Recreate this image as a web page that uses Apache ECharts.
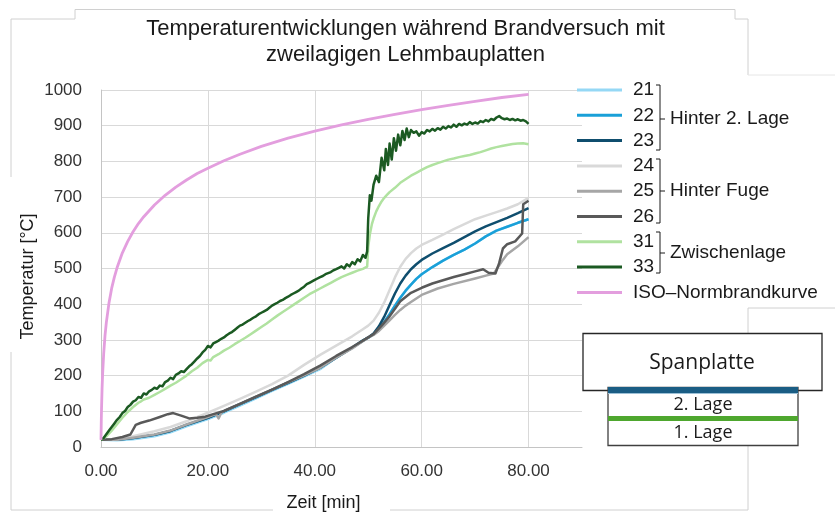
<!DOCTYPE html>
<html>
<head>
<meta charset="utf-8">
<script src="https://cdn.jsdelivr.net/npm/echarts@6/dist/echarts.min.js"></script>
<style>html,body{margin:0;padding:0;background:#fff}#c{width:835px;height:513px}</style>
</head>
<body>
<div id="c"></div>
<script>
// ---------- data ----------
const seriesNames = ['21','22','23','24','25','26','31','33','ISO–Normbrandkurve'];
const xTickLabels = ['0.00','20.00','40.00','60.00','80.00'];

const tIso = [0,0.05,0.1,0.2,0.3,0.5,0.75,1,1.5,2,2.5,3,4,5,6,7,8,10,12,14,16,18,20,23,26,30,35,40,45,50,55,60,65,70,75,80];
const vIso = [20,70,108,163,203,261,312,349,404,445,476,502,544,576,603,626,645,678,705,728,748,766,781,802,820,842,865,885,902,918,932,945,957,968,979,988];

const tLow = [0,3,6,10,13,16,20,23,26,29,32,35,38,41,44,47,49,50,51,52,53,54,55,56,57,58,59,60,62,64,66,68,70,72,74,76,78,80];
const v21  = [20,19,22,30,41,58,78,96,116,136,157,177,197,218,250,278,298,306,316,330,350,372,396,418,438,455,471,484,504,522,538,553,570,590,606,617,628,638];
const v22  = [20,20,25,34,45,62,82,100,120,140,160,180,200,222,250,278,298,306,316,330,350,372,396,418,438,455,471,484,504,522,538,553,570,590,606,617,628,638];
const v23  = [20,20,25,34,45,62,82,100,120,140,160,180,200,222,250,278,298,307,318,338,365,398,430,458,480,498,512,524,542,557,572,588,604,618,630,642,655,669];
const v24  = [20,22,30,44,56,72,96,115,135,155,176,200,230,258,284,310,330,340,354,376,405,440,475,505,527,543,556,566,580,595,610,624,638,648,658,668,680,698];

const t25 = [0,3,6,10,13,16,20,21.5,22,22.5,23,26,29,32,35,38,41,44,47,49,50,51,52,53,54,55,56,57,58,60,63,66,70,72,73.5,75,76,78,80];
const v25 = [20,20,26,35,46,63,84,92,80,96,101,121,141,161,181,201,222,250,276,296,306,314,325,340,355,370,384,396,406,426,444,457,472,480,486,520,540,562,588];

const t26 = [0,2,4,5.5,6.5,7.5,9,11,12.5,13.5,15,16.5,18,19.5,21,23,26,29,32,35,38,41,44,47,49,51,52.5,54,56,58,60,62,64,66,68,70,71.5,72.5,73.8,74.5,75.2,76,77.5,78.8,79,80];
const v26 = [20,22,28,35,62,68,74,84,92,95,88,80,82,85,92,101,121,141,161,182,204,228,255,280,298,316,340,366,408,432,446,458,467,476,484,492,498,488,486,515,556,568,576,598,680,690];

const t31 = [0,1,2,3,4,5,6,7,7.5,8,9,10,11,12,13,14,15,16,17,18,19,20,20.5,21,22,23,24,25,26,27,28,29,30,31,32,33,34,35,36,37,38,39,40,41,42,43,44,45,46,47,48,49,49.8,50,50.3,50.7,51,51.5,52,52.5,53,53.5,54,55,56,57,58,59,60,61,62,63,64,65,66,67,68,69,70,71,72,73,74,75,76,77,78,79,80];
const v31 = [20,30,46,64,82,98,112,124,128,133,138,146,154,163,172,180,190,200,212,222,235,244,242,252,260,270,278,288,297,306,316,326,336,346,357,368,378,388,398,408,418,428,436,444,452,460,468,476,482,488,494,499,505,560,595,625,640,660,675,688,698,706,714,726,740,750,760,768,776,784,790,795,800,805,808,812,815,818,822,826,831,836,840,843,846,849,850,851,848];

const t33 = [0,0.5,1,1.5,2,2.5,3,3.5,4,4.5,5,5.5,6,6.5,7,7.5,8,8.5,9,9.5,10,10.5,11,11.5,12,12.5,13,13.5,14,14.5,15,15.5,16,16.5,17,17.5,18,18.5,19,19.5,20,20.5,21,21.5,22,22.5,23,23.5,24,24.5,25,25.5,26,26.5,27,27.5,28,28.5,29,29.5,30,30.5,31,31.5,32,32.5,33,33.5,34,34.5,35,35.5,36,36.5,37,37.5,38,38.5,39,39.5,40,40.5,41,41.5,42,42.5,43,43.5,44,44.5,45,45.5,46,46.5,47,47.5,48,48.5,49,49.5,49.8,50,50.3,50.6,51,51.5,52,52.5,53,53.3,53.7,54,54.4,54.8,55.2,55.6,56,56.4,56.8,57.2,57.6,58,58.5,59,59.5,60,60.5,61,61.5,62,62.5,63,63.5,64,64.5,65,65.5,66,66.5,67,67.5,68,68.5,69,69.5,70,70.5,71,71.5,72,72.5,73,73.5,74,74.5,75,75.5,76,76.5,77,77.5,78,78.5,79,79.5,80];
const v33 = [20,25,36,46,56,66,76,84,95,101,112,118,127,131,140,138,150,147,156,160,166,163,172,170,182,186,194,190,202,206,212,210,218,226,232,240,248,255,265,272,283,279,290,294,298,303,307,313,318,322,328,334,340,343,348,353,357,362,366,372,376,380,384,390,396,400,404,409,412,417,421,426,430,434,438,444,449,456,460,464,468,472,476,479,484,487,490,495,498,502,506,500,512,506,518,512,526,520,538,530,548,640,705,690,735,760,742,810,775,835,790,850,805,865,830,875,845,885,860,892,868,888,880,884,872,882,878,888,884,891,886,893,889,897,892,899,895,903,897,905,901,906,903,910,905,909,906,913,910,916,912,919,916,923,927,921,918,920,916,919,915,918,914,916,912,905];

// ---------- chart ----------
const FONT = 'Liberation Sans, Arial, sans-serif';
const colors = ['#95d8f5','#1aa0d8','#0f4e6e','#d9d9d9','#a6a6a6','#595959','#b0e2a0','#1b5a22','#e39ede'];
const zip = (t, v) => t.map((x, i) => [x, v[i]]);
const seriesData = [zip(tLow,v21), zip(tLow,v22), zip(tLow,v23), zip(tLow,v24), zip(t25,v25), zip(t26,v26), zip(t31,v31), zip(t33,v33), zip(tIso,vIso)];

const chart = echarts.init(document.getElementById('c'), null, {renderer:'canvas'});
const gray = '#d0d0d0';
const L = (x1,y1,x2,y2,c) => ({type:'line', shape:{x1,y1,x2,y2}, style:{stroke:c||gray, lineWidth:1}, silent:true});

chart.setOption({
  animation:false,
  backgroundColor:'#ffffff',
  title:{
    text:'Temperaturentwicklungen während Brandversuch mit\nzweilagigen Lehmbauplatten',
    left:400.5, top:11, textAlign:'center', padding:5,
    textStyle:{fontFamily:FONT, fontSize:22, fontWeight:'normal', color:'#1a1a1a', lineHeight:26}
  },
  grid:{left:101, top:90, right:253, bottom:66, containLabel:false, outerBoundsMode:'none'},
  xAxis:{
    type:'value', min:0, max:90, interval:20,
    name:'Zeit [min]', nameLocation:'middle', nameGap:47, nameMoveOverlap:false,
    nameTextStyle:{fontFamily:FONT, fontSize:18, color:'#1a1a1a', padding:[0,36,0,0]},
    axisLine:{show:true, lineStyle:{color:'#c4c4c4', width:1}},
    axisTick:{show:false},
    axisLabel:{margin:16, fontFamily:FONT, fontSize:17, color:'#333',
      showMaxLabel:false,
      formatter:v => { const i = Math.round(v/20); return (v % 20 === 0 && xTickLabels[i]) ? xTickLabels[i] : ''; }},
    splitLine:{show:true, showMaxLine:false, lineStyle:{color:'#d9d9d9', width:1}}
  },
  yAxis:{
    type:'value', min:0, max:1000, interval:100,
    name:'Temperatur [°C]', nameLocation:'middle', nameGap:64, nameRotate:90, nameMoveOverlap:false,
    nameTextStyle:{fontFamily:FONT, fontSize:18, color:'#1a1a1a', padding:[0,16,0,0]},
    axisLine:{show:true, lineStyle:{color:'#c4c4c4', width:1}},
    axisTick:{show:false},
    axisLabel:{margin:19, fontFamily:FONT, fontSize:17, color:'#333', formatter:v => String(v)},
    splitLine:{show:true, lineStyle:{color:'#d9d9d9', width:1}}
  },
  legend:{
    orient:'vertical', left:577, top:80, itemWidth:45, itemHeight:3, icon:'rect',
    itemGap:5.3, selectedMode:false, padding:0,
    textStyle:{fontFamily:FONT, fontSize:19, color:'#1a1a1a', lineHeight:20, padding:[0,0,0,6]},
    data:seriesNames
  },
  series: seriesNames.map((n, i) => ({
    name:n, type:'line', data:seriesData[i], color:colors[i],
    showSymbol:false, symbol:'none', smooth:false,
    lineStyle:{color:colors[i], width: i === 8 ? 2.8 : 2.5, join:'round'},
    emphasis:{disabled:true}, silent:true, z: 2 + i
  })),
  graphic:[
    // outer frame fragments
    L(75,9.5,735,9.5), L(75,9.5,75,19), L(11,19,75,19), L(735,9.5,735,19), L(735,19,748,19),
    L(748,19,748,75), L(748,75,835,75,'#e6e6e6'),
    L(11,19,11,177), L(11,352,11,510),
    L(11,510,273,510), L(390,510,748,510),
    L(748,445,748,510), L(748,308,748,333), L(748,308,835,308),
    // legend brackets
    {type:'polyline', shape:{points:[[656,85],[660,85],[660,150],[656,150]]}, style:{stroke:'#1a1a1a', lineWidth:1, fill:null}},
    L(660,119,665,119,'#1a1a1a'),
    {type:'text', x:670, y:119, style:{text:'Hinter 2. Lage', font:'19px '+FONT, fill:'#1a1a1a', verticalAlign:'middle'}},
    {type:'polyline', shape:{points:[[656,159],[660,159],[660,223],[656,223]]}, style:{stroke:'#1a1a1a', lineWidth:1, fill:null}},
    L(660,191,665,191,'#1a1a1a'),
    {type:'text', x:670, y:191, style:{text:'Hinter Fuge', font:'19px '+FONT, fill:'#1a1a1a', verticalAlign:'middle'}},
    {type:'polyline', shape:{points:[[656,232],[660,232],[660,273],[656,273]]}, style:{stroke:'#1a1a1a', lineWidth:1, fill:null}},
    L(660,253,665,253,'#1a1a1a'),
    {type:'text', x:670, y:253, style:{text:'Zwischenlage', font:'19px '+FONT, fill:'#1a1a1a', verticalAlign:'middle'}},
    // Spanplatte diagram
    {type:'rect', shape:{x:583, y:333.5, width:239, height:57}, style:{fill:'#fff', stroke:'#262626', lineWidth:1.3}},
    {type:'text', x:702, y:363, style:{text:'Spanplatte', font:'21px Open Sans', fill:'#1a1a1a', align:'center', verticalAlign:'middle'}},
    {type:'rect', shape:{x:608, y:387.5, width:190, height:58}, style:{fill:'#fff', stroke:'#404040', lineWidth:1.3}},
    {type:'rect', shape:{x:608, y:387, width:190, height:6}, style:{fill:'#1a5d84'}},
    {type:'rect', shape:{x:608, y:393, width:190, height:1}, style:{fill:'#9cc0d6'}},
    {type:'rect', shape:{x:608, y:416, width:190, height:5}, style:{fill:'#4ea72e'}},
    {type:'text', x:703, y:405, style:{text:'2. Lage', font:'18px Open Sans', fill:'#1a1a1a', align:'center', verticalAlign:'middle'}},
    {type:'text', x:703, y:433, style:{text:'1. Lage', font:'18px Open Sans', fill:'#1a1a1a', align:'center', verticalAlign:'middle'}}
  ]
});
</script>
</body>
</html>
